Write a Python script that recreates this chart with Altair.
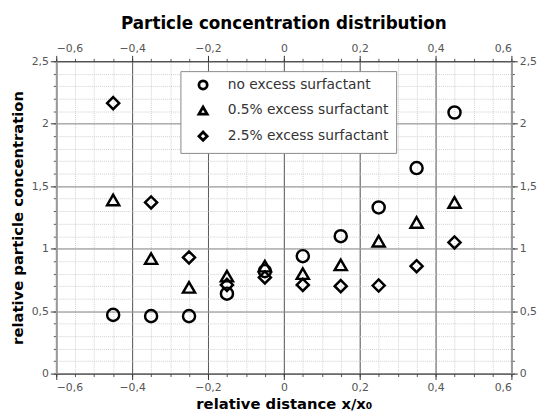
import altair as alt
import pandas as pd

# ---- data ----
x_pos = [-0.45, -0.35, -0.25, -0.15, -0.05, 0.05, 0.15, 0.25, 0.35, 0.45]
no_excess = [0.47, 0.46, 0.46, 0.64, 0.82, 0.94, 1.10, 1.33, 1.645, 2.09]
excess_05 = [1.39, 0.92, 0.69, 0.78, 0.86, 0.80, 0.87, 1.06, 1.21, 1.37]
excess_25 = [2.165, 1.37, 0.93, 0.71, 0.77, 0.71, 0.70, 0.705, 0.86, 1.05]
series = ["no excess surfactant", "0.5% excess surfactant", "2.5% excess surfactant"]
shapes = ["circle", "triangle-up", "diamond"]

x_major = [-0.6, -0.4, -0.2, 0.0, 0.2, 0.4, 0.6]
x_minor = [-0.6, -0.55, -0.5, -0.45, -0.4, -0.35, -0.3, -0.25, -0.2, -0.15, -0.1, -0.05,
           0.0, 0.05, 0.1, 0.15, 0.2, 0.25, 0.3, 0.35, 0.4, 0.45, 0.5, 0.55, 0.6]
y_major = [0.0, 0.5, 1.0, 1.5, 2.0, 2.5]
y_minor = [0.0, 0.1, 0.2, 0.3, 0.4, 0.5, 0.6, 0.7, 0.8, 0.9, 1.0, 1.1, 1.2, 1.3, 1.4,
           1.5, 1.6, 1.7, 1.8, 1.9, 2.0, 2.1, 2.2, 2.3, 2.4, 2.5]

rows = []
for name, vals in zip(series, [no_excess, excess_05, excess_25]):
    for xv, yv in zip(x_pos, vals):
        rows.append({"x": xv, "y": yv, "series": name})
df = pd.DataFrame(rows)

FONT = "DejaVu Sans"
label_expr = "replace(format(datum.value, '~g'), '.', ',')"
xscale = alt.Scale(domain=[-0.6, 0.6], nice=False, zero=False)
yscale = alt.Scale(domain=[0, 2.5], nice=False, zero=False)

base = alt.Chart(df)

# minor grid / minor ticks (bottom + left)
minor_bl = base.mark_point(opacity=0).encode(
    x=alt.X("x:Q", scale=xscale, axis=alt.Axis(
        orient="bottom", values=x_minor, grid=True, gridColor="#cfcfcf", gridDash=[1, 1],
        labels=False, domain=False, tickSize=3, tickColor="#555", title="")),
    y=alt.Y("y:Q", scale=yscale, axis=alt.Axis(
        orient="left", values=y_minor, grid=True, gridColor="#cfcfcf", gridDash=[1, 1],
        labels=False, domain=False, tickSize=3, tickColor="#555", title="")),
)

# minor ticks (top + right)
minor_tr = base.mark_point(opacity=0).encode(
    x=alt.X("x:Q", scale=xscale, axis=alt.Axis(
        orient="top", values=x_minor, grid=False, labels=False, domain=False,
        tickSize=3, tickColor="#555", title="")),
    y=alt.Y("y:Q", scale=yscale, axis=alt.Axis(
        orient="right", values=y_minor, grid=False, labels=False, domain=False,
        tickSize=3, tickColor="#555", title="")),
)

# major top + right axes with labels
major_tr = base.mark_point(opacity=0).encode(
    x=alt.X("x:Q", scale=xscale, axis=alt.Axis(
        orient="top", values=x_major, grid=False, labelExpr=label_expr,
        labelFont=FONT, labelFontSize=11, labelColor="#555", labelPadding=2,
        domainColor="#333", tickColor="#333", tickSize=6, title="")),
    y=alt.Y("y:Q", scale=yscale, axis=alt.Axis(
        orient="right", values=y_major, grid=False, labelExpr=label_expr,
        labelFont=FONT, labelFontSize=11, labelColor="#555", labelPadding=2,
        domainColor="#999", domainWidth=2, tickColor="#333", tickSize=6, title="")),
)

# data points with major bottom + left axes
points = base.mark_point(filled=False, strokeWidth=2.5, color="black", size=150, opacity=1).encode(
    x=alt.X("x:Q", scale=xscale, axis=alt.Axis(
        orient="bottom", values=x_major, grid=True, gridColor="#555", labelExpr=label_expr,
        labelFont=FONT, labelFontSize=11, labelColor="#555", labelPadding=2,
        domainColor="#333", tickColor="#333", tickSize=6,
        title="relative distance x/x₀", titleFont=FONT, titleFontSize=15,
        titleFontWeight="bold", titleColor="black", titlePadding=4)),
    y=alt.Y("y:Q", scale=yscale, axis=alt.Axis(
        orient="left", values=y_major, grid=True, gridColor="#888", labelExpr=label_expr,
        labelFont=FONT, labelFontSize=11, labelColor="#555", labelPadding=2,
        domainColor="#999", domainWidth=2, tickColor="#333", tickSize=6,
        title="relative particle concentration", titleFont=FONT, titleFontSize=15,
        titleFontWeight="bold", titleColor="black", titlePadding=6)),
    shape=alt.Shape("series:N", scale=alt.Scale(domain=series, range=shapes),
                    sort=series,
                    legend=alt.Legend(
                        title=None, orient="none", legendX=126, legendY=10,
                        labelFont=FONT, labelFontSize=14, labelColor="#333", labelLimit=400,
                        symbolSize=70, symbolStrokeWidth=2.8, symbolStrokeColor="black",
                        symbolFillColor="transparent", symbolOffset=9, labelOffset=18,
                        rowPadding=6, padding=7, strokeColor="#888", fillColor="white")),
)

chart = alt.layer(minor_bl, minor_tr, major_tr, points).resolve_axis(
    x="independent", y="independent"
).properties(
    width=462, height=317,
    title=alt.TitleParams("Particle concentration distribution", font=FONT, fontSize=17,
                          fontWeight="bold", color="black", offset=10),
    autosize=alt.AutoSizeParams(type="none"),
    padding={"left": 49, "top": 51, "right": 28, "bottom": 43},
).configure_view(stroke=None)

chart.save("out.html", embed_options={"renderer": "svg", "actions": False})
